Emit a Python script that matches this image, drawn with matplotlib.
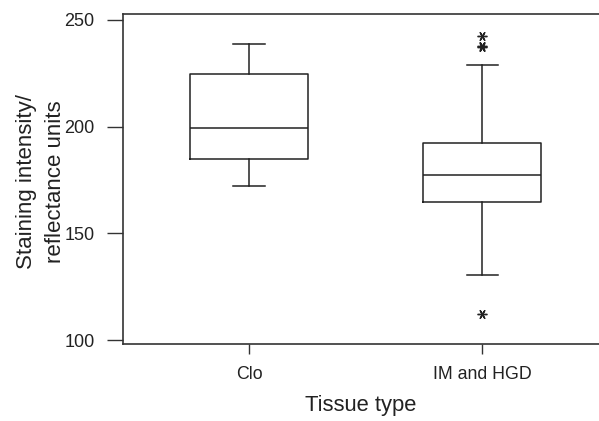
import matplotlib
matplotlib.use("Agg")
import matplotlib.pyplot as plt

# box summary values
groups = ["Clo", "IM and HGD"]
whis_lo = [172.2, 130.3]
q1 = [184.9, 164.8]
medians = [199.4, 177.4]
q3 = [224.7, 192.5]
whis_hi = [238.8, 228.9]
outliers = [[], [242.5, 237.8, 237.2, 112.2]]

yticks = [100, 150, 200, 250]

plt.rcParams['font.family'] = ['Liberation Sans', 'DejaVu Sans']

fig = plt.figure(figsize=(5.99, 4.21), dpi=100)
ax = fig.add_axes([123 / 599, 1 - 344.3 / 421, 1 - 123 / 599, (344.3 - 14) / 421])

stats = []
for i, g in enumerate(groups):
    stats.append(dict(label=g, med=medians[i], q1=q1[i], q3=q3[i],
                      whislo=whis_lo[i], whishi=whis_hi[i], fliers=outliers[i]))

line_col = '#222222'
ax.bxp(stats, positions=[1, 2], widths=0.506, capwidths=0.133,
       boxprops=dict(color=line_col, linewidth=1.1),
       whiskerprops=dict(color=line_col, linewidth=1.1),
       capprops=dict(color=line_col, linewidth=1.1),
       medianprops=dict(color=line_col, linewidth=1.1),
       flierprops=dict(marker=(6, 2, 90), markersize=7, markeredgecolor=line_col,
                       markeredgewidth=1.0, linestyle='none'))

ax.set_xlim(0.46, 2.5)
ax.set_ylim(98.0, 252.8)
ax.set_yticks(yticks)

for s in ['left', 'bottom', 'top']:
    ax.spines[s].set_color('#333333')
    ax.spines[s].set_linewidth(1.2)
ax.spines['right'].set_visible(False)

ax.tick_params(axis='y', length=11.5, width=1.0, pad=9, labelsize=13,
               colors='#333333', labelcolor='#222222')
ax.tick_params(axis='x', length=7.5, width=1.0, pad=8, labelsize=12.8,
               colors='#333333', labelcolor='#222222')

ax.set_xlabel("Tissue type", fontsize=15.8, color='#222222', labelpad=9)
fig.text(41 / 599, 1 - 182 / 421, "Staining intensity/\nreflectance units",
         rotation=90, ha='center', va='center', multialignment='center',
         fontsize=16, color='#222222', linespacing=1.45)

fig.savefig("out.png", dpi=100)
